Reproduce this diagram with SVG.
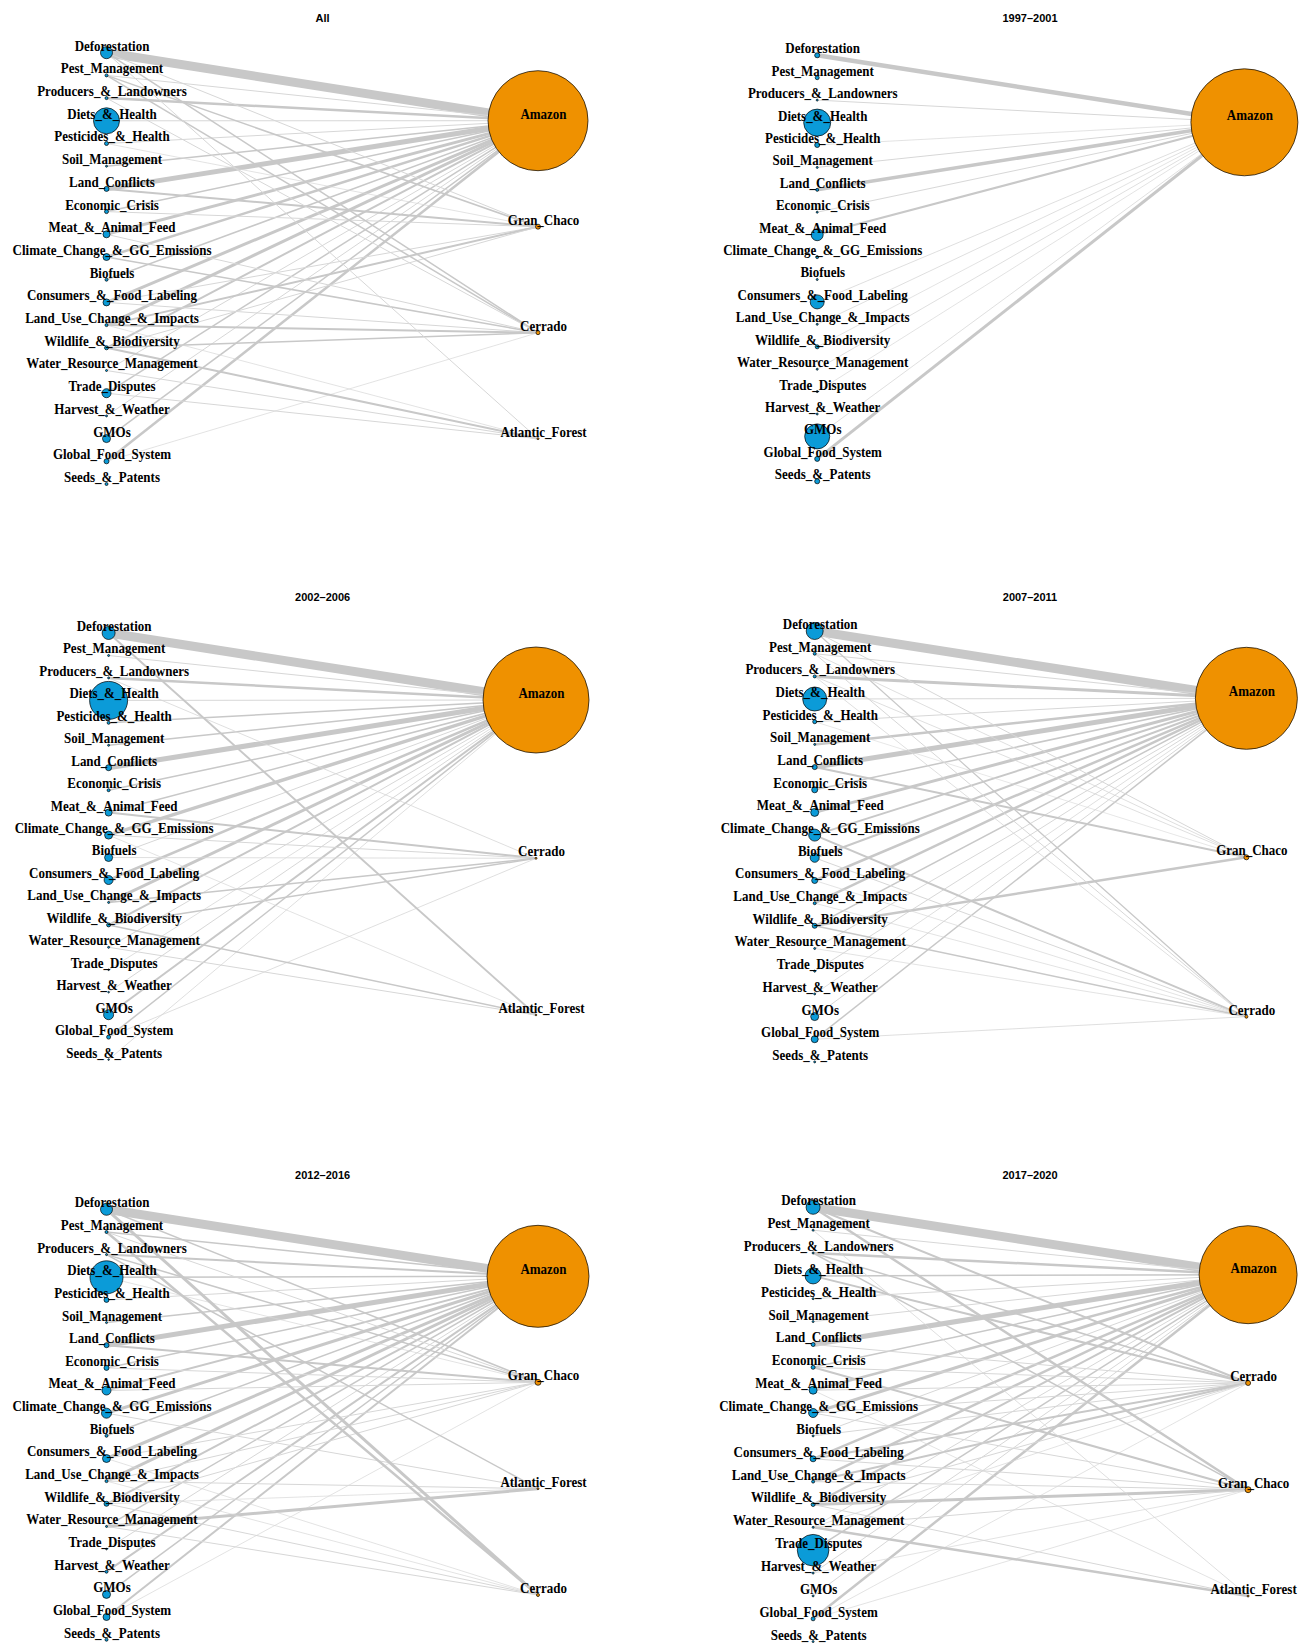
<svg xmlns="http://www.w3.org/2000/svg" width="1299" height="1643" viewBox="0 0 1299 1643">
<style>
.edges line{stroke:#c8c8c8;fill:none}
.edges line.f{stroke:#d7d7d7}
.b{fill:#0b9bd8;stroke:#000;stroke-width:0.7}
.o{fill:#ef9100;stroke:#000;stroke-width:0.7}
.t{font-family:"Liberation Serif","Times New Roman",serif;font-weight:bold;font-size:15px;text-anchor:middle;fill:#000;transform-box:fill-box;transform-origin:center;transform:translateY(-1.5px) scaleX(0.866)}
.h{font-family:"Liberation Sans",Arial,sans-serif;font-weight:bold;font-size:11px;text-anchor:middle;fill:#000}
</style>
<rect width="1299" height="1643" fill="#fff"/>

<!-- ================= PANEL 1: All ================= -->
<g id="p1-edges" class="edges">
<line x1="106.5" y1="52.7" x2="538" y2="120.7" stroke-width="9"/>
<line class="f" x1="106.5" y1="75.4" x2="538" y2="120.7" stroke-width="1"/>
<line x1="106.5" y1="98.1" x2="538" y2="120.7" stroke-width="2.5"/>
<line class="f" x1="106.5" y1="120.8" x2="538" y2="120.7" stroke-width="1"/>
<line class="f" x1="106.5" y1="143.5" x2="538" y2="120.7" stroke-width="1"/>
<line x1="106.5" y1="166.2" x2="538" y2="120.7" stroke-width="1.5"/>
<line x1="106.5" y1="188.9" x2="538" y2="120.7" stroke-width="5"/>
<line x1="106.5" y1="211.6" x2="538" y2="120.7" stroke-width="1.5"/>
<line x1="106.5" y1="234.3" x2="538" y2="120.7" stroke-width="3"/>
<line x1="106.5" y1="257.0" x2="538" y2="120.7" stroke-width="2.5"/>
<line x1="106.5" y1="279.7" x2="538" y2="120.7" stroke-width="1.5"/>
<line x1="106.5" y1="302.4" x2="538" y2="120.7" stroke-width="3"/>
<line x1="106.5" y1="325.1" x2="538" y2="120.7" stroke-width="3"/>
<line x1="106.5" y1="347.8" x2="538" y2="120.7" stroke-width="2"/>
<line class="f" x1="106.5" y1="370.5" x2="538" y2="120.7" stroke-width="1"/>
<line x1="106.5" y1="393.2" x2="538" y2="120.7" stroke-width="1.5"/>
<line class="f" x1="106.5" y1="415.9" x2="538" y2="120.7" stroke-width="1"/>
<line x1="106.5" y1="438.6" x2="538" y2="120.7" stroke-width="1.5"/>
<line x1="106.5" y1="461.3" x2="538" y2="120.7" stroke-width="2.5"/>
<line class="f" x1="106.5" y1="52.7" x2="538" y2="226.7" stroke-width="1"/>
<line x1="106.5" y1="75.4" x2="538" y2="226.7" stroke-width="1.5"/>
<line class="f" x1="106.5" y1="143.5" x2="538" y2="226.7" stroke-width="0.7"/>
<line x1="106.5" y1="188.9" x2="538" y2="226.7" stroke-width="2"/>
<line class="f" x1="106.5" y1="211.6" x2="538" y2="226.7" stroke-width="1"/>
<line class="f" x1="106.5" y1="302.4" x2="538" y2="226.7" stroke-width="1"/>
<line x1="106.5" y1="325.1" x2="538" y2="226.7" stroke-width="2"/>
<line class="f" x1="106.5" y1="347.8" x2="538" y2="226.7" stroke-width="1"/>
<line x1="106.5" y1="52.7" x2="538" y2="332.7" stroke-width="1.5"/>
<line x1="106.5" y1="75.4" x2="538" y2="332.7" stroke-width="1.5"/>
<line class="f" x1="106.5" y1="98.1" x2="538" y2="332.7" stroke-width="1"/>
<line class="f" x1="106.5" y1="234.3" x2="538" y2="332.7" stroke-width="1"/>
<line x1="106.5" y1="257.0" x2="538" y2="332.7" stroke-width="1.5"/>
<line class="f" x1="106.5" y1="302.4" x2="538" y2="332.7" stroke-width="1"/>
<line x1="106.5" y1="325.1" x2="538" y2="332.7" stroke-width="2"/>
<line x1="106.5" y1="347.8" x2="538" y2="332.7" stroke-width="1.5"/>
<line class="f" x1="106.5" y1="461.3" x2="538" y2="332.7" stroke-width="0.7"/>
<line class="f" x1="106.5" y1="52.7" x2="538" y2="438.7" stroke-width="1"/>
<line class="f" x1="106.5" y1="325.1" x2="538" y2="438.7" stroke-width="0.7"/>
<line x1="106.5" y1="347.8" x2="538" y2="438.7" stroke-width="2"/>
<line class="f" x1="106.5" y1="370.5" x2="538" y2="438.7" stroke-width="1"/>
<line class="f" x1="106.5" y1="393.2" x2="538" y2="438.7" stroke-width="1"/>
</g>
<text class="h" x="322.6" y="22.3">All</text>
<g id="p1-Amazon"><circle class="o" cx="538" cy="120.7" r="50"/><text class="t" x="543.5" y="120.2">Amazon</text></g>
<g id="p1-Gran_Chaco"><circle class="o" cx="538" cy="226.7" r="2.5"/><text class="t" x="543.5" y="226.2">Gran_Chaco</text></g>
<g id="p1-Cerrado"><circle class="o" cx="538" cy="332.7" r="2"/><text class="t" x="543.5" y="332.2">Cerrado</text></g>
<g id="p1-Atlantic_Forest"><circle class="o" cx="538" cy="438.7" r="1"/><text class="t" x="543.5" y="438.2">Atlantic_Forest</text></g>
<g id="p1-Deforestation"><circle class="b" cx="106.5" cy="52.7" r="6"/><text class="t" x="112" y="52.2">Deforestation</text></g>
<g id="p1-Pest_Management"><circle class="b" cx="106.5" cy="75.4" r="1.5"/><text class="t" x="112" y="74.9">Pest_Management</text></g>
<g id="p1-Producers"><circle class="b" cx="106.5" cy="98.1" r="1.5"/><text class="t" x="112" y="97.6">Producers_&amp;_Landowners</text></g>
<g id="p1-Diets"><circle class="b" cx="106.5" cy="120.8" r="13"/><text class="t" x="112" y="120.3">Diets_&amp;_Health</text></g>
<g id="p1-Pesticides"><circle class="b" cx="106.5" cy="143.5" r="2"/><text class="t" x="112" y="143">Pesticides_&amp;_Health</text></g>
<g id="p1-Soil"><circle class="b" cx="106.5" cy="166.2" r="1"/><text class="t" x="112" y="165.7">Soil_Management</text></g>
<g id="p1-Land_Conflicts"><circle class="b" cx="106.5" cy="188.9" r="2.5"/><text class="t" x="112" y="188.4">Land_Conflicts</text></g>
<g id="p1-Economic"><circle class="b" cx="106.5" cy="211.6" r="2"/><text class="t" x="112" y="211.1">Economic_Crisis</text></g>
<g id="p1-Meat"><circle class="b" cx="106.5" cy="234.3" r="3.5"/><text class="t" x="112" y="233.8">Meat_&amp;_Animal_Feed</text></g>
<g id="p1-Climate"><circle class="b" cx="106.5" cy="257.0" r="3.5"/><text class="t" x="112" y="256.5">Climate_Change_&amp;_GG_Emissions</text></g>
<g id="p1-Biofuels"><circle class="b" cx="106.5" cy="279.7" r="1.5"/><text class="t" x="112" y="279.2">Biofuels</text></g>
<g id="p1-Consumers"><circle class="b" cx="106.5" cy="302.4" r="3.5"/><text class="t" x="112" y="301.9">Consumers_&amp;_Food_Labeling</text></g>
<g id="p1-Land_Use"><circle class="b" cx="106.5" cy="325.1" r="1.5"/><text class="t" x="112" y="324.6">Land_Use_Change_&amp;_Impacts</text></g>
<g id="p1-Wildlife"><circle class="b" cx="106.5" cy="347.8" r="2"/><text class="t" x="112" y="347.3">Wildlife_&amp;_Biodiversity</text></g>
<g id="p1-Water"><circle class="b" cx="106.5" cy="370.5" r="1"/><text class="t" x="112" y="370">Water_Resource_Management</text></g>
<g id="p1-Trade"><circle class="b" cx="106.5" cy="393.2" r="4.5"/><text class="t" x="112" y="392.7">Trade_Disputes</text></g>
<g id="p1-Harvest"><circle class="b" cx="106.5" cy="415.9" r="1"/><text class="t" x="112" y="415.4">Harvest_&amp;_Weather</text></g>
<g id="p1-GMOs"><circle class="b" cx="106.5" cy="438.6" r="4"/><text class="t" x="112" y="438.1">GMOs</text></g>
<g id="p1-Global_Food"><circle class="b" cx="106.5" cy="461.3" r="2.5"/><text class="t" x="112" y="460.8">Global_Food_System</text></g>
<g id="p1-Seeds"><circle class="b" cx="106.5" cy="484.0" r="1.5"/><text class="t" x="112" y="483.5">Seeds_&amp;_Patents</text></g>

<!-- ================= PANEL 2: 1997-2001 ================= -->
<g id="p2-edges" class="edges">
<line x1="817.2" y1="55.3" x2="1244.4" y2="122.3" stroke-width="4.5"/>
<line class="f" x1="817.2" y1="100.1" x2="1244.4" y2="122.3" stroke-width="1"/>
<line class="f" x1="817.2" y1="145.0" x2="1244.4" y2="122.3" stroke-width="0.7"/>
<line class="f" x1="817.2" y1="167.4" x2="1244.4" y2="122.3" stroke-width="1"/>
<line x1="817.2" y1="189.8" x2="1244.4" y2="122.3" stroke-width="3.5"/>
<line class="f" x1="817.2" y1="212.2" x2="1244.4" y2="122.3" stroke-width="1"/>
<line x1="817.2" y1="234.7" x2="1244.4" y2="122.3" stroke-width="2"/>
<line class="f" x1="817.2" y1="301.9" x2="1244.4" y2="122.3" stroke-width="0.8"/>
<line class="f" x1="817.2" y1="324.3" x2="1244.4" y2="122.3" stroke-width="0.8"/>
<line class="f" x1="817.2" y1="346.8" x2="1244.4" y2="122.3" stroke-width="0.7"/>
<line class="f" x1="817.2" y1="369.2" x2="1244.4" y2="122.3" stroke-width="0.8"/>
<line class="f" x1="817.2" y1="391.6" x2="1244.4" y2="122.3" stroke-width="0.7"/>
<line class="f" x1="817.2" y1="436.4" x2="1244.4" y2="122.3" stroke-width="0.8"/>
<line x1="817.2" y1="458.9" x2="1244.4" y2="122.3" stroke-width="3"/>
</g>
<text class="h" x="1030" y="22.3">1997–2001</text>
<g id="p2-Amazon"><circle class="o" cx="1244.4" cy="122.3" r="53.5"/><text class="t" x="1249.9" y="121.8">Amazon</text></g>
<g id="p2-Deforestation"><circle class="b" cx="817.2" cy="55.3" r="2.5"/><text class="t" x="822.7" y="54.8">Deforestation</text></g>
<g id="p2-Pest_Management"><circle class="b" cx="817.2" cy="77.7" r="2"/><text class="t" x="822.7" y="77.2">Pest_Management</text></g>
<g id="p2-Producers"><circle class="b" cx="817.2" cy="100.1" r="1"/><text class="t" x="822.7" y="99.6">Producers_&amp;_Landowners</text></g>
<g id="p2-Diets"><circle class="b" cx="817.2" cy="122.6" r="13.5"/><text class="t" x="822.7" y="122.1">Diets_&amp;_Health</text></g>
<g id="p2-Pesticides"><circle class="b" cx="817.2" cy="145.0" r="2.5"/><text class="t" x="822.7" y="144.5">Pesticides_&amp;_Health</text></g>
<g id="p2-Soil"><circle class="b" cx="817.2" cy="167.4" r="1"/><text class="t" x="822.7" y="166.9">Soil_Management</text></g>
<g id="p2-Land_Conflicts"><circle class="b" cx="817.2" cy="189.8" r="1.5"/><text class="t" x="822.7" y="189.3">Land_Conflicts</text></g>
<g id="p2-Economic"><circle class="b" cx="817.2" cy="212.2" r="1"/><text class="t" x="822.7" y="211.7">Economic_Crisis</text></g>
<g id="p2-Meat"><circle class="b" cx="817.2" cy="234.7" r="6"/><text class="t" x="822.7" y="234.2">Meat_&amp;_Animal_Feed</text></g>
<g id="p2-Climate"><circle class="b" cx="817.2" cy="257.1" r="1.5"/><text class="t" x="822.7" y="256.6">Climate_Change_&amp;_GG_Emissions</text></g>
<g id="p2-Biofuels"><circle class="b" cx="817.2" cy="279.5" r="1"/><text class="t" x="822.7" y="279">Biofuels</text></g>
<g id="p2-Consumers"><circle class="b" cx="817.2" cy="301.9" r="7"/><text class="t" x="822.7" y="301.4">Consumers_&amp;_Food_Labeling</text></g>
<g id="p2-Land_Use"><circle class="b" cx="817.2" cy="324.3" r="1"/><text class="t" x="822.7" y="323.8">Land_Use_Change_&amp;_Impacts</text></g>
<g id="p2-Wildlife"><circle class="b" cx="817.2" cy="346.8" r="2"/><text class="t" x="822.7" y="346.3">Wildlife_&amp;_Biodiversity</text></g>
<g id="p2-Water"><circle class="b" cx="817.2" cy="369.2" r="1"/><text class="t" x="822.7" y="368.7">Water_Resource_Management</text></g>
<g id="p2-Trade"><circle class="b" cx="817.2" cy="391.6" r="1"/><text class="t" x="822.7" y="391.1">Trade_Disputes</text></g>
<g id="p2-Harvest"><circle class="b" cx="817.2" cy="414.0" r="1"/><text class="t" x="822.7" y="413.5">Harvest_&amp;_Weather</text></g>
<g id="p2-GMOs"><circle class="b" cx="817.2" cy="436.4" r="12.5"/><text class="t" x="822.7" y="435.9">GMOs</text></g>
<g id="p2-Global_Food"><circle class="b" cx="817.2" cy="458.9" r="2.5"/><text class="t" x="822.7" y="458.4">Global_Food_System</text></g>
<g id="p2-Seeds"><circle class="b" cx="817.2" cy="481.3" r="2.5"/><text class="t" x="822.7" y="480.8">Seeds_&amp;_Patents</text></g>

<!-- ================= PANEL 3: 2002-2006 ================= -->
<g id="p3-edges" class="edges">
<line x1="108.6" y1="633.0" x2="536" y2="700" stroke-width="9"/>
<line class="f" x1="108.6" y1="655.5" x2="536" y2="700" stroke-width="1"/>
<line x1="108.6" y1="677.9" x2="536" y2="700" stroke-width="2.5"/>
<line class="f" x1="108.6" y1="700.4" x2="536" y2="700" stroke-width="1"/>
<line x1="108.6" y1="722.8" x2="536" y2="700" stroke-width="1.5"/>
<line x1="108.6" y1="745.3" x2="536" y2="700" stroke-width="1.5"/>
<line x1="108.6" y1="767.7" x2="536" y2="700" stroke-width="5"/>
<line x1="108.6" y1="790.2" x2="536" y2="700" stroke-width="1.5"/>
<line x1="108.6" y1="812.6" x2="536" y2="700" stroke-width="1.5"/>
<line x1="108.6" y1="835.1" x2="536" y2="700" stroke-width="3.5"/>
<line class="f" x1="108.6" y1="857.5" x2="536" y2="700" stroke-width="1"/>
<line x1="108.6" y1="880.0" x2="536" y2="700" stroke-width="2.5"/>
<line x1="108.6" y1="902.4" x2="536" y2="700" stroke-width="3"/>
<line x1="108.6" y1="924.9" x2="536" y2="700" stroke-width="2"/>
<line class="f" x1="108.6" y1="947.3" x2="536" y2="700" stroke-width="1"/>
<line class="f" x1="108.6" y1="969.8" x2="536" y2="700" stroke-width="0.8"/>
<line class="f" x1="108.6" y1="992.2" x2="536" y2="700" stroke-width="1"/>
<line x1="108.6" y1="1014.7" x2="536" y2="700" stroke-width="2"/>
<line x1="108.6" y1="1037.1" x2="536" y2="700" stroke-width="1.5"/>
<line class="f" x1="108.6" y1="1059.6" x2="536" y2="700" stroke-width="0.8"/>
<line class="f" x1="108.6" y1="677.9" x2="536" y2="858.3" stroke-width="0.8"/>
<line x1="108.6" y1="812.6" x2="536" y2="858.3" stroke-width="2"/>
<line class="f" x1="108.6" y1="835.1" x2="536" y2="858.3" stroke-width="1"/>
<line class="f" x1="108.6" y1="857.5" x2="536" y2="858.3" stroke-width="0.8"/>
<line x1="108.6" y1="902.4" x2="536" y2="858.3" stroke-width="1.5"/>
<line x1="108.6" y1="924.9" x2="536" y2="858.3" stroke-width="1.5"/>
<line class="f" x1="108.6" y1="1037.1" x2="536" y2="858.3" stroke-width="0.8"/>
<line x1="108.6" y1="633.0" x2="536" y2="1015" stroke-width="2"/>
<line class="f" x1="108.6" y1="835.1" x2="536" y2="1015" stroke-width="0.7"/>
<line x1="108.6" y1="924.9" x2="536" y2="1015" stroke-width="1.5"/>
<line class="f" x1="108.6" y1="947.3" x2="536" y2="1015" stroke-width="1"/>
</g>
<text class="h" x="322.6" y="600.7">2002–2006</text>
<g id="p3-Amazon"><circle class="o" cx="536" cy="700" r="53"/><text class="t" x="541.5" y="699.5">Amazon</text></g>
<g id="p3-Cerrado"><circle class="o" cx="536" cy="858.3" r="1"/><text class="t" x="541.5" y="857.8">Cerrado</text></g>
<g id="p3-Atlantic_Forest"><circle class="o" cx="536" cy="1015" r="0.8"/><text class="t" x="541.5" y="1014.5">Atlantic_Forest</text></g>
<g id="p3-Deforestation"><circle class="b" cx="108.6" cy="633.0" r="6.5"/><text class="t" x="114.1" y="632.5">Deforestation</text></g>
<g id="p3-Pest_Management"><circle class="b" cx="108.6" cy="655.5" r="1"/><text class="t" x="114.1" y="655">Pest_Management</text></g>
<g id="p3-Producers"><circle class="b" cx="108.6" cy="677.9" r="1"/><text class="t" x="114.1" y="677.4">Producers_&amp;_Landowners</text></g>
<g id="p3-Diets"><circle class="b" cx="108.6" cy="700.4" r="19"/><text class="t" x="114.1" y="699.9">Diets_&amp;_Health</text></g>
<g id="p3-Pesticides"><circle class="b" cx="108.6" cy="722.8" r="1.5"/><text class="t" x="114.1" y="722.3">Pesticides_&amp;_Health</text></g>
<g id="p3-Soil"><circle class="b" cx="108.6" cy="745.3" r="1"/><text class="t" x="114.1" y="744.8">Soil_Management</text></g>
<g id="p3-Land_Conflicts"><circle class="b" cx="108.6" cy="767.7" r="3"/><text class="t" x="114.1" y="767.2">Land_Conflicts</text></g>
<g id="p3-Economic"><circle class="b" cx="108.6" cy="790.2" r="1.5"/><text class="t" x="114.1" y="789.7">Economic_Crisis</text></g>
<g id="p3-Meat"><circle class="b" cx="108.6" cy="812.6" r="3.5"/><text class="t" x="114.1" y="812.1">Meat_&amp;_Animal_Feed</text></g>
<g id="p3-Climate"><circle class="b" cx="108.6" cy="835.1" r="4"/><text class="t" x="114.1" y="834.6">Climate_Change_&amp;_GG_Emissions</text></g>
<g id="p3-Biofuels"><circle class="b" cx="108.6" cy="857.5" r="4"/><text class="t" x="114.1" y="857">Biofuels</text></g>
<g id="p3-Consumers"><circle class="b" cx="108.6" cy="880.0" r="4.5"/><text class="t" x="114.1" y="879.5">Consumers_&amp;_Food_Labeling</text></g>
<g id="p3-Land_Use"><circle class="b" cx="108.6" cy="902.4" r="1"/><text class="t" x="114.1" y="901.9">Land_Use_Change_&amp;_Impacts</text></g>
<g id="p3-Wildlife"><circle class="b" cx="108.6" cy="924.9" r="2"/><text class="t" x="114.1" y="924.4">Wildlife_&amp;_Biodiversity</text></g>
<g id="p3-Water"><circle class="b" cx="108.6" cy="947.3" r="1"/><text class="t" x="114.1" y="946.8">Water_Resource_Management</text></g>
<g id="p3-Trade"><circle class="b" cx="108.6" cy="969.8" r="0.8"/><text class="t" x="114.1" y="969.3">Trade_Disputes</text></g>
<g id="p3-Harvest"><circle class="b" cx="108.6" cy="992.2" r="0.8"/><text class="t" x="114.1" y="991.7">Harvest_&amp;_Weather</text></g>
<g id="p3-GMOs"><circle class="b" cx="108.6" cy="1014.7" r="5"/><text class="t" x="114.1" y="1014.2">GMOs</text></g>
<g id="p3-Global_Food"><circle class="b" cx="108.6" cy="1037.1" r="2"/><text class="t" x="114.1" y="1036.6">Global_Food_System</text></g>
<g id="p3-Seeds"><circle class="b" cx="108.6" cy="1059.6" r="0.8"/><text class="t" x="114.1" y="1059.1">Seeds_&amp;_Patents</text></g>

<!-- ================= PANEL 4: 2007-2011 ================= -->
<g id="p4-edges" class="edges">
<line x1="814.7" y1="631.0" x2="1246.4" y2="698.3" stroke-width="9"/>
<line class="f" x1="814.7" y1="653.7" x2="1246.4" y2="698.3" stroke-width="1"/>
<line x1="814.7" y1="676.4" x2="1246.4" y2="698.3" stroke-width="3"/>
<line class="f" x1="814.7" y1="699.0" x2="1246.4" y2="698.3" stroke-width="1"/>
<line class="f" x1="814.7" y1="721.7" x2="1246.4" y2="698.3" stroke-width="1"/>
<line x1="814.7" y1="744.4" x2="1246.4" y2="698.3" stroke-width="2.5"/>
<line x1="814.7" y1="767.1" x2="1246.4" y2="698.3" stroke-width="5"/>
<line x1="814.7" y1="789.8" x2="1246.4" y2="698.3" stroke-width="1.5"/>
<line x1="814.7" y1="812.4" x2="1246.4" y2="698.3" stroke-width="3"/>
<line x1="814.7" y1="835.1" x2="1246.4" y2="698.3" stroke-width="2"/>
<line x1="814.7" y1="857.8" x2="1246.4" y2="698.3" stroke-width="2"/>
<line x1="814.7" y1="880.5" x2="1246.4" y2="698.3" stroke-width="2.5"/>
<line x1="814.7" y1="903.2" x2="1246.4" y2="698.3" stroke-width="2.5"/>
<line x1="814.7" y1="925.8" x2="1246.4" y2="698.3" stroke-width="1.5"/>
<line class="f" x1="814.7" y1="948.5" x2="1246.4" y2="698.3" stroke-width="1"/>
<line class="f" x1="814.7" y1="971.2" x2="1246.4" y2="698.3" stroke-width="1"/>
<line class="f" x1="814.7" y1="993.9" x2="1246.4" y2="698.3" stroke-width="0.8"/>
<line class="f" x1="814.7" y1="1016.6" x2="1246.4" y2="698.3" stroke-width="1"/>
<line x1="814.7" y1="1039.2" x2="1246.4" y2="698.3" stroke-width="1.5"/>
<line class="f" x1="814.7" y1="631.0" x2="1246.4" y2="857.3" stroke-width="1"/>
<line class="f" x1="814.7" y1="653.7" x2="1246.4" y2="857.3" stroke-width="0.8"/>
<line class="f" x1="814.7" y1="676.4" x2="1246.4" y2="857.3" stroke-width="0.8"/>
<line class="f" x1="814.7" y1="721.7" x2="1246.4" y2="857.3" stroke-width="0.6"/>
<line x1="814.7" y1="767.1" x2="1246.4" y2="857.3" stroke-width="2"/>
<line x1="814.7" y1="925.8" x2="1246.4" y2="857.3" stroke-width="2.5"/>
<line x1="814.7" y1="631.0" x2="1246.4" y2="1016.7" stroke-width="1.2"/>
<line class="f" x1="814.7" y1="653.7" x2="1246.4" y2="1016.7" stroke-width="1"/>
<line class="f" x1="814.7" y1="676.4" x2="1246.4" y2="1016.7" stroke-width="0.8"/>
<line x1="814.7" y1="835.1" x2="1246.4" y2="1016.7" stroke-width="2"/>
<line class="f" x1="814.7" y1="857.8" x2="1246.4" y2="1016.7" stroke-width="1"/>
<line class="f" x1="814.7" y1="880.5" x2="1246.4" y2="1016.7" stroke-width="0.7"/>
<line class="f" x1="814.7" y1="903.2" x2="1246.4" y2="1016.7" stroke-width="0.7"/>
<line x1="814.7" y1="925.8" x2="1246.4" y2="1016.7" stroke-width="1.5"/>
<line class="f" x1="814.7" y1="948.5" x2="1246.4" y2="1016.7" stroke-width="0.7"/>
<line class="f" x1="814.7" y1="1039.2" x2="1246.4" y2="1016.7" stroke-width="0.8"/>
</g>
<text class="h" x="1030" y="600.7">2007–2011</text>
<g id="p4-Amazon"><circle class="o" cx="1246.4" cy="698.3" r="51"/><text class="t" x="1251.9" y="697.8">Amazon</text></g>
<g id="p4-Gran_Chaco"><circle class="o" cx="1246.4" cy="857.3" r="2.5"/><text class="t" x="1251.9" y="856.8">Gran_Chaco</text></g>
<g id="p4-Cerrado"><circle class="o" cx="1246.4" cy="1016.7" r="1.5"/><text class="t" x="1251.9" y="1016.2">Cerrado</text></g>
<g id="p4-Deforestation"><circle class="b" cx="814.7" cy="631.0" r="8.5"/><text class="t" x="820.2" y="630.5">Deforestation</text></g>
<g id="p4-Pest_Management"><circle class="b" cx="814.7" cy="653.7" r="1.5"/><text class="t" x="820.2" y="653.2">Pest_Management</text></g>
<g id="p4-Producers"><circle class="b" cx="814.7" cy="676.4" r="1.5"/><text class="t" x="820.2" y="675.9">Producers_&amp;_Landowners</text></g>
<g id="p4-Diets"><circle class="b" cx="814.7" cy="699.0" r="12"/><text class="t" x="820.2" y="698.5">Diets_&amp;_Health</text></g>
<g id="p4-Pesticides"><circle class="b" cx="814.7" cy="721.7" r="2"/><text class="t" x="820.2" y="721.2">Pesticides_&amp;_Health</text></g>
<g id="p4-Soil"><circle class="b" cx="814.7" cy="744.4" r="1"/><text class="t" x="820.2" y="743.9">Soil_Management</text></g>
<g id="p4-Land_Conflicts"><circle class="b" cx="814.7" cy="767.1" r="2.5"/><text class="t" x="820.2" y="766.6">Land_Conflicts</text></g>
<g id="p4-Economic"><circle class="b" cx="814.7" cy="789.8" r="3"/><text class="t" x="820.2" y="789.3">Economic_Crisis</text></g>
<g id="p4-Meat"><circle class="b" cx="814.7" cy="812.4" r="4"/><text class="t" x="820.2" y="811.9">Meat_&amp;_Animal_Feed</text></g>
<g id="p4-Climate"><circle class="b" cx="814.7" cy="835.1" r="6"/><text class="t" x="820.2" y="834.6">Climate_Change_&amp;_GG_Emissions</text></g>
<g id="p4-Biofuels"><circle class="b" cx="814.7" cy="857.8" r="4.5"/><text class="t" x="820.2" y="857.3">Biofuels</text></g>
<g id="p4-Consumers"><circle class="b" cx="814.7" cy="880.5" r="3"/><text class="t" x="820.2" y="880">Consumers_&amp;_Food_Labeling</text></g>
<g id="p4-Land_Use"><circle class="b" cx="814.7" cy="903.2" r="1.5"/><text class="t" x="820.2" y="902.7">Land_Use_Change_&amp;_Impacts</text></g>
<g id="p4-Wildlife"><circle class="b" cx="814.7" cy="925.8" r="2.5"/><text class="t" x="820.2" y="925.3">Wildlife_&amp;_Biodiversity</text></g>
<g id="p4-Water"><circle class="b" cx="814.7" cy="948.5" r="1"/><text class="t" x="820.2" y="948">Water_Resource_Management</text></g>
<g id="p4-Trade"><circle class="b" cx="814.7" cy="971.2" r="1"/><text class="t" x="820.2" y="970.7">Trade_Disputes</text></g>
<g id="p4-Harvest"><circle class="b" cx="814.7" cy="993.9" r="1"/><text class="t" x="820.2" y="993.4">Harvest_&amp;_Weather</text></g>
<g id="p4-GMOs"><circle class="b" cx="814.7" cy="1016.6" r="4"/><text class="t" x="820.2" y="1016.1">GMOs</text></g>
<g id="p4-Global_Food"><circle class="b" cx="814.7" cy="1039.2" r="3.5"/><text class="t" x="820.2" y="1038.7">Global_Food_System</text></g>
<g id="p4-Seeds"><circle class="b" cx="814.7" cy="1061.9" r="1"/><text class="t" x="820.2" y="1061.4">Seeds_&amp;_Patents</text></g>

<!-- ================= PANEL 5: 2012-2016 ================= -->
<g id="p5-edges" class="edges">
<line x1="106.5" y1="1209.3" x2="538" y2="1276.3" stroke-width="9"/>
<line x1="106.5" y1="1232.0" x2="538" y2="1276.3" stroke-width="1.5"/>
<line x1="106.5" y1="1254.6" x2="538" y2="1276.3" stroke-width="2"/>
<line x1="106.5" y1="1277.3" x2="538" y2="1276.3" stroke-width="1.5"/>
<line class="f" x1="106.5" y1="1299.9" x2="538" y2="1276.3" stroke-width="1"/>
<line x1="106.5" y1="1322.6" x2="538" y2="1276.3" stroke-width="1.5"/>
<line x1="106.5" y1="1345.2" x2="538" y2="1276.3" stroke-width="5"/>
<line x1="106.5" y1="1367.9" x2="538" y2="1276.3" stroke-width="1.5"/>
<line x1="106.5" y1="1390.5" x2="538" y2="1276.3" stroke-width="2"/>
<line x1="106.5" y1="1413.2" x2="538" y2="1276.3" stroke-width="3"/>
<line x1="106.5" y1="1435.8" x2="538" y2="1276.3" stroke-width="1.5"/>
<line x1="106.5" y1="1458.5" x2="538" y2="1276.3" stroke-width="3"/>
<line x1="106.5" y1="1481.1" x2="538" y2="1276.3" stroke-width="3"/>
<line x1="106.5" y1="1503.8" x2="538" y2="1276.3" stroke-width="2"/>
<line x1="106.5" y1="1526.4" x2="538" y2="1276.3" stroke-width="1.5"/>
<line class="f" x1="106.5" y1="1549.1" x2="538" y2="1276.3" stroke-width="1"/>
<line x1="106.5" y1="1571.7" x2="538" y2="1276.3" stroke-width="2"/>
<line x1="106.5" y1="1594.4" x2="538" y2="1276.3" stroke-width="1.5"/>
<line x1="106.5" y1="1617.0" x2="538" y2="1276.3" stroke-width="2"/>
<line x1="106.5" y1="1209.3" x2="538" y2="1382.3" stroke-width="1.5"/>
<line class="f" x1="106.5" y1="1232.0" x2="538" y2="1382.3" stroke-width="1"/>
<line x1="106.5" y1="1254.6" x2="538" y2="1382.3" stroke-width="1.5"/>
<line class="f" x1="106.5" y1="1277.3" x2="538" y2="1382.3" stroke-width="0.7"/>
<line x1="106.5" y1="1345.2" x2="538" y2="1382.3" stroke-width="2"/>
<line class="f" x1="106.5" y1="1367.9" x2="538" y2="1382.3" stroke-width="1"/>
<line class="f" x1="106.5" y1="1390.5" x2="538" y2="1382.3" stroke-width="1"/>
<line class="f" x1="106.5" y1="1458.5" x2="538" y2="1382.3" stroke-width="1"/>
<line class="f" x1="106.5" y1="1481.1" x2="538" y2="1382.3" stroke-width="1"/>
<line class="f" x1="106.5" y1="1503.8" x2="538" y2="1382.3" stroke-width="1"/>
<line class="f" x1="106.5" y1="1617.0" x2="538" y2="1382.3" stroke-width="0.7"/>
<line x1="106.5" y1="1254.6" x2="538" y2="1488.7" stroke-width="1.5"/>
<line class="f" x1="106.5" y1="1413.2" x2="538" y2="1488.7" stroke-width="1"/>
<line class="f" x1="106.5" y1="1481.1" x2="538" y2="1488.7" stroke-width="1"/>
<line class="f" x1="106.5" y1="1503.8" x2="538" y2="1488.7" stroke-width="0.7"/>
<line x1="106.5" y1="1526.4" x2="538" y2="1488.7" stroke-width="3"/>
<line x1="106.5" y1="1209.3" x2="538" y2="1595" stroke-width="3"/>
<line x1="106.5" y1="1232.0" x2="538" y2="1595" stroke-width="2.5"/>
<line class="f" x1="106.5" y1="1458.5" x2="538" y2="1595" stroke-width="0.7"/>
<line class="f" x1="106.5" y1="1481.1" x2="538" y2="1595" stroke-width="0.7"/>
<line class="f" x1="106.5" y1="1503.8" x2="538" y2="1595" stroke-width="1"/>
<line class="f" x1="106.5" y1="1526.4" x2="538" y2="1595" stroke-width="1"/>
</g>
<text class="h" x="322.6" y="1178.7">2012–2016</text>
<g id="p5-Amazon"><circle class="o" cx="538" cy="1276.3" r="51"/><text class="t" x="543.5" y="1275.8">Amazon</text></g>
<g id="p5-Gran_Chaco"><circle class="o" cx="538" cy="1382.3" r="3"/><text class="t" x="543.5" y="1381.8">Gran_Chaco</text></g>
<g id="p5-Atlantic_Forest"><circle class="o" cx="538" cy="1488.7" r="1"/><text class="t" x="543.5" y="1488.2">Atlantic_Forest</text></g>
<g id="p5-Cerrado"><circle class="o" cx="538" cy="1595" r="1.5"/><text class="t" x="543.5" y="1594.5">Cerrado</text></g>
<g id="p5-Deforestation"><circle class="b" cx="106.5" cy="1209.3" r="6"/><text class="t" x="112" y="1208.8">Deforestation</text></g>
<g id="p5-Pest_Management"><circle class="b" cx="106.5" cy="1232.0" r="1.5"/><text class="t" x="112" y="1231.5">Pest_Management</text></g>
<g id="p5-Producers"><circle class="b" cx="106.5" cy="1254.6" r="1"/><text class="t" x="112" y="1254.1">Producers_&amp;_Landowners</text></g>
<g id="p5-Diets"><circle class="b" cx="106.5" cy="1277.3" r="16.5"/><text class="t" x="112" y="1276.8">Diets_&amp;_Health</text></g>
<g id="p5-Pesticides"><circle class="b" cx="106.5" cy="1299.9" r="2.5"/><text class="t" x="112" y="1299.4">Pesticides_&amp;_Health</text></g>
<g id="p5-Soil"><circle class="b" cx="106.5" cy="1322.6" r="1"/><text class="t" x="112" y="1322.1">Soil_Management</text></g>
<g id="p5-Land_Conflicts"><circle class="b" cx="106.5" cy="1345.2" r="2.5"/><text class="t" x="112" y="1344.7">Land_Conflicts</text></g>
<g id="p5-Economic"><circle class="b" cx="106.5" cy="1367.9" r="2.5"/><text class="t" x="112" y="1367.4">Economic_Crisis</text></g>
<g id="p5-Meat"><circle class="b" cx="106.5" cy="1390.5" r="4.5"/><text class="t" x="112" y="1390">Meat_&amp;_Animal_Feed</text></g>
<g id="p5-Climate"><circle class="b" cx="106.5" cy="1413.2" r="5"/><text class="t" x="112" y="1412.7">Climate_Change_&amp;_GG_Emissions</text></g>
<g id="p5-Biofuels"><circle class="b" cx="106.5" cy="1435.8" r="1.5"/><text class="t" x="112" y="1435.3">Biofuels</text></g>
<g id="p5-Consumers"><circle class="b" cx="106.5" cy="1458.5" r="4"/><text class="t" x="112" y="1458">Consumers_&amp;_Food_Labeling</text></g>
<g id="p5-Land_Use"><circle class="b" cx="106.5" cy="1481.1" r="1.5"/><text class="t" x="112" y="1480.6">Land_Use_Change_&amp;_Impacts</text></g>
<g id="p5-Wildlife"><circle class="b" cx="106.5" cy="1503.8" r="2.5"/><text class="t" x="112" y="1503.3">Wildlife_&amp;_Biodiversity</text></g>
<g id="p5-Water"><circle class="b" cx="106.5" cy="1526.4" r="1"/><text class="t" x="112" y="1525.9">Water_Resource_Management</text></g>
<g id="p5-Trade"><circle class="b" cx="106.5" cy="1549.1" r="0.8"/><text class="t" x="112" y="1548.6">Trade_Disputes</text></g>
<g id="p5-Harvest"><circle class="b" cx="106.5" cy="1571.7" r="1.5"/><text class="t" x="112" y="1571.2">Harvest_&amp;_Weather</text></g>
<g id="p5-GMOs"><circle class="b" cx="106.5" cy="1594.4" r="4"/><text class="t" x="112" y="1593.9">GMOs</text></g>
<g id="p5-Global_Food"><circle class="b" cx="106.5" cy="1617.0" r="3.5"/><text class="t" x="112" y="1616.5">Global_Food_System</text></g>
<g id="p5-Seeds"><circle class="b" cx="106.5" cy="1639.7" r="1.5"/><text class="t" x="112" y="1639.2">Seeds_&amp;_Patents</text></g>

<!-- ================= PANEL 6: 2017-2020 ================= -->
<g id="p6-edges" class="edges">
<line x1="813.1" y1="1207.3" x2="1248.1" y2="1274.7" stroke-width="9"/>
<line class="f" x1="813.1" y1="1230.2" x2="1248.1" y2="1274.7" stroke-width="1"/>
<line x1="813.1" y1="1253.0" x2="1248.1" y2="1274.7" stroke-width="2.5"/>
<line x1="813.1" y1="1275.9" x2="1248.1" y2="1274.7" stroke-width="1.5"/>
<line class="f" x1="813.1" y1="1298.7" x2="1248.1" y2="1274.7" stroke-width="1"/>
<line class="f" x1="813.1" y1="1321.6" x2="1248.1" y2="1274.7" stroke-width="1"/>
<line x1="813.1" y1="1344.5" x2="1248.1" y2="1274.7" stroke-width="5"/>
<line x1="813.1" y1="1367.3" x2="1248.1" y2="1274.7" stroke-width="1.5"/>
<line x1="813.1" y1="1390.2" x2="1248.1" y2="1274.7" stroke-width="2.5"/>
<line x1="813.1" y1="1413.0" x2="1248.1" y2="1274.7" stroke-width="3"/>
<line class="f" x1="813.1" y1="1435.9" x2="1248.1" y2="1274.7" stroke-width="1"/>
<line x1="813.1" y1="1458.8" x2="1248.1" y2="1274.7" stroke-width="2.5"/>
<line x1="813.1" y1="1481.6" x2="1248.1" y2="1274.7" stroke-width="2.5"/>
<line x1="813.1" y1="1504.5" x2="1248.1" y2="1274.7" stroke-width="2"/>
<line class="f" x1="813.1" y1="1527.3" x2="1248.1" y2="1274.7" stroke-width="1"/>
<line x1="813.1" y1="1550.2" x2="1248.1" y2="1274.7" stroke-width="1.5"/>
<line class="f" x1="813.1" y1="1573.1" x2="1248.1" y2="1274.7" stroke-width="1"/>
<line class="f" x1="813.1" y1="1595.9" x2="1248.1" y2="1274.7" stroke-width="1"/>
<line x1="813.1" y1="1618.8" x2="1248.1" y2="1274.7" stroke-width="2.5"/>
<line x1="813.1" y1="1207.3" x2="1248.1" y2="1383" stroke-width="2"/>
<line x1="813.1" y1="1253.0" x2="1248.1" y2="1383" stroke-width="1.5"/>
<line x1="813.1" y1="1275.9" x2="1248.1" y2="1383" stroke-width="2"/>
<line class="f" x1="813.1" y1="1344.5" x2="1248.1" y2="1383" stroke-width="1"/>
<line class="f" x1="813.1" y1="1367.3" x2="1248.1" y2="1383" stroke-width="1"/>
<line class="f" x1="813.1" y1="1390.2" x2="1248.1" y2="1383" stroke-width="1"/>
<line class="f" x1="813.1" y1="1413.0" x2="1248.1" y2="1383" stroke-width="1"/>
<line class="f" x1="813.1" y1="1435.9" x2="1248.1" y2="1383" stroke-width="1"/>
<line x1="813.1" y1="1458.8" x2="1248.1" y2="1383" stroke-width="2"/>
<line x1="813.1" y1="1481.6" x2="1248.1" y2="1383" stroke-width="2"/>
<line class="f" x1="813.1" y1="1504.5" x2="1248.1" y2="1383" stroke-width="1"/>
<line class="f" x1="813.1" y1="1527.3" x2="1248.1" y2="1383" stroke-width="0.7"/>
<line class="f" x1="813.1" y1="1618.8" x2="1248.1" y2="1383" stroke-width="0.7"/>
<line x1="813.1" y1="1207.3" x2="1248.1" y2="1489.7" stroke-width="2.5"/>
<line x1="813.1" y1="1253.0" x2="1248.1" y2="1489.7" stroke-width="1.5"/>
<line x1="813.1" y1="1367.3" x2="1248.1" y2="1489.7" stroke-width="2"/>
<line class="f" x1="813.1" y1="1413.0" x2="1248.1" y2="1489.7" stroke-width="1"/>
<line class="f" x1="813.1" y1="1458.8" x2="1248.1" y2="1489.7" stroke-width="1"/>
<line class="f" x1="813.1" y1="1481.6" x2="1248.1" y2="1489.7" stroke-width="1"/>
<line x1="813.1" y1="1504.5" x2="1248.1" y2="1489.7" stroke-width="3"/>
<line class="f" x1="813.1" y1="1527.3" x2="1248.1" y2="1489.7" stroke-width="1"/>
<line class="f" x1="813.1" y1="1573.1" x2="1248.1" y2="1489.7" stroke-width="0.7"/>
<line class="f" x1="813.1" y1="1618.8" x2="1248.1" y2="1489.7" stroke-width="0.7"/>
<line class="f" x1="813.1" y1="1230.2" x2="1248.1" y2="1596" stroke-width="0.8"/>
<line class="f" x1="813.1" y1="1390.2" x2="1248.1" y2="1596" stroke-width="0.7"/>
<line class="f" x1="813.1" y1="1504.5" x2="1248.1" y2="1596" stroke-width="1"/>
<line x1="813.1" y1="1527.3" x2="1248.1" y2="1596" stroke-width="2.5"/>
</g>
<text class="h" x="1030" y="1178.7">2017–2020</text>
<g id="p6-Amazon"><circle class="o" cx="1248.1" cy="1274.7" r="49"/><text class="t" x="1253.6" y="1274.2">Amazon</text></g>
<g id="p6-Cerrado"><circle class="o" cx="1248.1" cy="1383" r="2.5"/><text class="t" x="1253.6" y="1382.5">Cerrado</text></g>
<g id="p6-Gran_Chaco"><circle class="o" cx="1248.1" cy="1489.7" r="3"/><text class="t" x="1253.6" y="1489.2">Gran_Chaco</text></g>
<g id="p6-Atlantic_Forest"><circle class="o" cx="1248.1" cy="1596" r="1"/><text class="t" x="1253.6" y="1595.5">Atlantic_Forest</text></g>
<g id="p6-Deforestation"><circle class="b" cx="813.1" cy="1207.3" r="7"/><text class="t" x="818.6" y="1206.8">Deforestation</text></g>
<g id="p6-Pest_Management"><circle class="b" cx="813.1" cy="1230.2" r="1"/><text class="t" x="818.6" y="1229.7">Pest_Management</text></g>
<g id="p6-Producers"><circle class="b" cx="813.1" cy="1253.0" r="1"/><text class="t" x="818.6" y="1252.5">Producers_&amp;_Landowners</text></g>
<g id="p6-Diets"><circle class="b" cx="813.1" cy="1275.9" r="8"/><text class="t" x="818.6" y="1275.4">Diets_&amp;_Health</text></g>
<g id="p6-Pesticides"><circle class="b" cx="813.1" cy="1298.7" r="1"/><text class="t" x="818.6" y="1298.2">Pesticides_&amp;_Health</text></g>
<g id="p6-Soil"><circle class="b" cx="813.1" cy="1321.6" r="1"/><text class="t" x="818.6" y="1321.1">Soil_Management</text></g>
<g id="p6-Land_Conflicts"><circle class="b" cx="813.1" cy="1344.5" r="2"/><text class="t" x="818.6" y="1344">Land_Conflicts</text></g>
<g id="p6-Economic"><circle class="b" cx="813.1" cy="1367.3" r="2"/><text class="t" x="818.6" y="1366.8">Economic_Crisis</text></g>
<g id="p6-Meat"><circle class="b" cx="813.1" cy="1390.2" r="4"/><text class="t" x="818.6" y="1389.7">Meat_&amp;_Animal_Feed</text></g>
<g id="p6-Climate"><circle class="b" cx="813.1" cy="1413.0" r="4.5"/><text class="t" x="818.6" y="1412.5">Climate_Change_&amp;_GG_Emissions</text></g>
<g id="p6-Biofuels"><circle class="b" cx="813.1" cy="1435.9" r="1"/><text class="t" x="818.6" y="1435.4">Biofuels</text></g>
<g id="p6-Consumers"><circle class="b" cx="813.1" cy="1458.8" r="3"/><text class="t" x="818.6" y="1458.3">Consumers_&amp;_Food_Labeling</text></g>
<g id="p6-Land_Use"><circle class="b" cx="813.1" cy="1481.6" r="1.5"/><text class="t" x="818.6" y="1481.1">Land_Use_Change_&amp;_Impacts</text></g>
<g id="p6-Wildlife"><circle class="b" cx="813.1" cy="1504.5" r="2"/><text class="t" x="818.6" y="1504">Wildlife_&amp;_Biodiversity</text></g>
<g id="p6-Water"><circle class="b" cx="813.1" cy="1527.3" r="1"/><text class="t" x="818.6" y="1526.8">Water_Resource_Management</text></g>
<g id="p6-Trade"><circle class="b" cx="813.1" cy="1550.2" r="15.8"/><text class="t" x="818.6" y="1549.7">Trade_Disputes</text></g>
<g id="p6-Harvest"><circle class="b" cx="813.1" cy="1573.1" r="1"/><text class="t" x="818.6" y="1572.6">Harvest_&amp;_Weather</text></g>
<g id="p6-GMOs"><circle class="b" cx="813.1" cy="1595.9" r="1"/><text class="t" x="818.6" y="1595.4">GMOs</text></g>
<g id="p6-Global_Food"><circle class="b" cx="813.1" cy="1618.8" r="2"/><text class="t" x="818.6" y="1618.3">Global_Food_System</text></g>
<g id="p6-Seeds"><circle class="b" cx="813.1" cy="1641.6" r="1"/><text class="t" x="818.6" y="1641.1">Seeds_&amp;_Patents</text></g>
</svg>
